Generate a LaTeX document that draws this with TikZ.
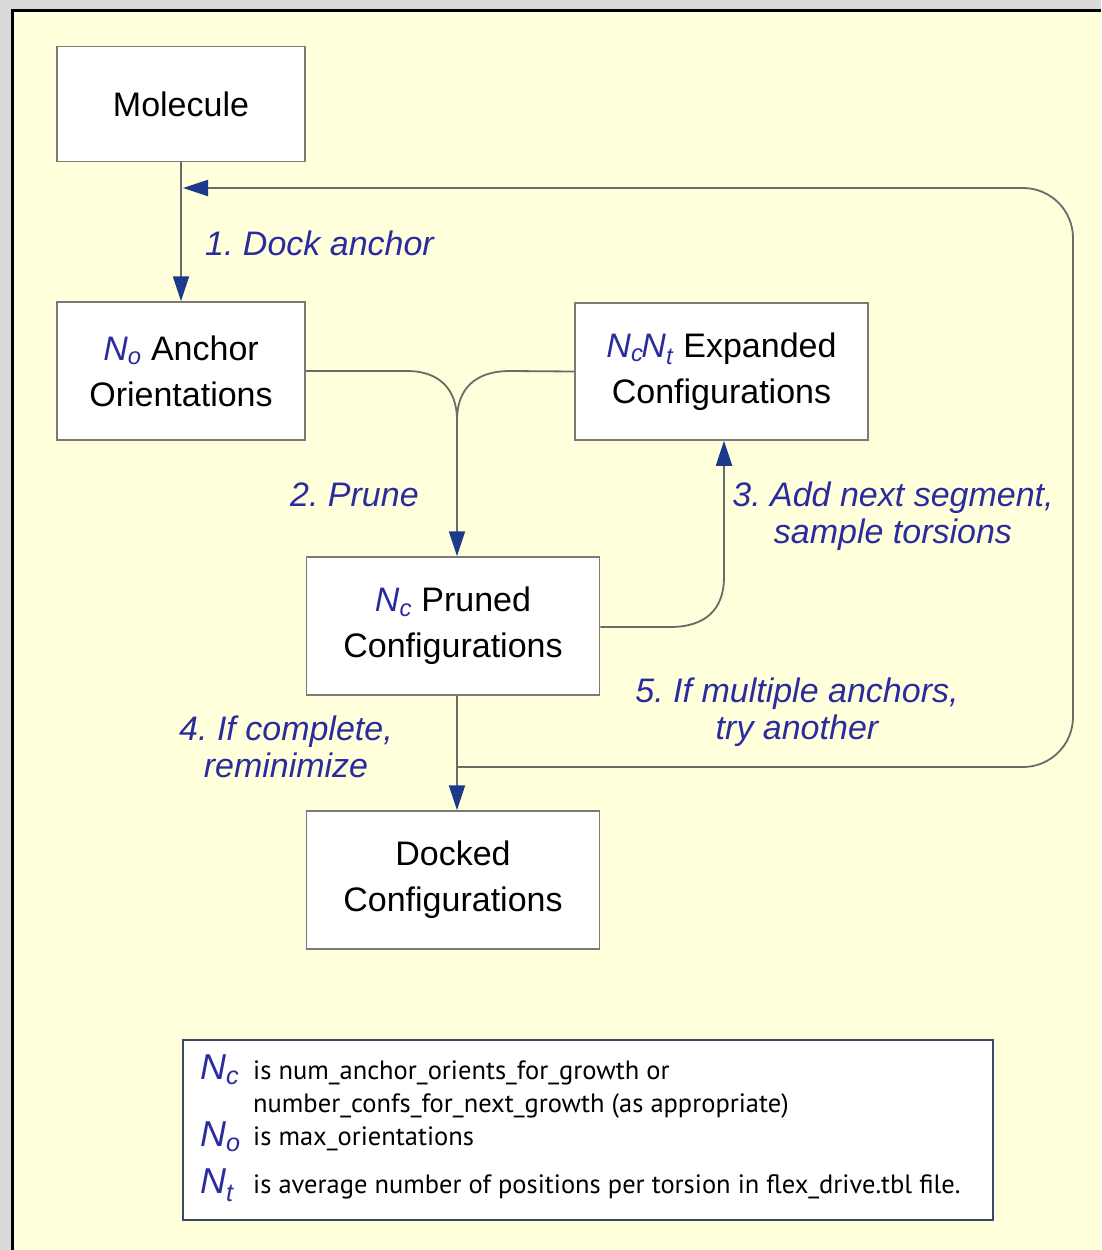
\documentclass[tikz,border=0pt]{standalone}
\usepackage{fontspec}
\setmainfont{Liberation Sans}
\newfontfamily\legfont{PT Sans}
\usetikzlibrary{arrows.meta}
\frenchspacing
\definecolor{cream}{HTML}{FFFFDC}
\definecolor{bggray}{HTML}{D9D9D9}
\definecolor{labblue}{HTML}{2B2BA0}
\definecolor{tipblue}{HTML}{1B3A8A}
\definecolor{boxgray}{HTML}{7A7A7A}
\definecolor{linegray}{HTML}{6A6A6A}
\definecolor{legborder}{HTML}{3A4868}
\newcommand\NN[1]{\textcolor{labblue}{\textit{N}\textsubscript{\textit{#1}}}}
\tikzset{
  box/.style={draw=boxgray, line width=1.5pt, fill=white, align=center,
    font=\fontsize{34}{46}\selectfont, text=black, inner sep=0pt},
  conn/.style={draw=linegray, line width=1.8pt},
  arr/.style={conn, -{Triangle[length=25pt,width=16pt,color=tipblue]}},
  lab/.style={text=labblue, font=\fontsize{34}{37}\selectfont\itshape, align=center, inner sep=0pt},
  bigN/.style={font=\fontsize{36}{36}\selectfont, inner sep=0pt},
  legtext/.style={font=\legfont\fontsize{26.5}{30}\selectfont, inner sep=0pt, anchor=west}
}
\begin{document}
\frenchspacing
\begin{tikzpicture}[x=1pt,y=-1pt]
\useasboundingbox (0,0) rectangle (1101,1250);
\fill[bggray] (0,0) rectangle (1101,1250);
\fill[cream] (12,10) rectangle (1101,1250);
\draw[line width=3pt, black] (12,1250) -- (12,10) -- (1101,10);

\node[box, minimum width=248pt, minimum height=115pt] (mol) at (181,104) {Molecule};
\node[box, minimum width=248pt, minimum height=138pt] (anc) at (181,371) {\NN{o} Anchor\\Orientations};
\node[box, minimum width=293pt, minimum height=137pt] (exp) at (721.5,371.5) {\NN{c}\kern-2pt\NN{t} Expanded\\Configurations};
\node[box, minimum width=293pt, minimum height=138pt] (pru) at (453,626) {\NN{c} Pruned\\Configurations};
\node[box, minimum width=293pt, minimum height=138pt] (dock) at (453,880) {Docked\\Configurations};

% 1. dock anchor
\draw[arr] (mol.south) -- (anc.north);
% merge to prune
\coordinate (merge) at (457,420);
\coordinate (split) at (457,767);
\draw[conn] (anc.east) -- (407,371) .. controls (440,371) and (457,390) .. (merge);
\draw[conn] (exp.west) -- (510,371) .. controls (474,371) and (457,390) .. (merge);
\draw[arr] (merge) -- (merge |- pru.north);
% 3. add next segment
\coordinate (up) at (724,577);
\draw[conn] (pru.east |- 0,627) -- (670,627) .. controls (705,627) and (724,610) .. (up);
\draw[arr] (up) -- (up |- exp.south);
% 4. to docked
\draw[arr] (split |- pru.south) -- (split |- dock.north);
% 5. loop
\coordinate (loopend) at (183,188);
\draw[arr, rounded corners=50pt] (split) -- (1073,767) -- (1073,188) -- (loopend);

% labels
\node[lab, anchor=west] (l1) at (205,243) {1. Dock anchor};
\node[lab, anchor=west] (l2) at (290,495) {2. Prune};
\node[lab] (l3) at (893,516) {3. Add next segment,\\sample torsions};
\node[lab] (l4) at (286,747) {4. If complete,\\reminimize};
\node[lab] (l5) at (797,712) {5. If multiple anchors,\\try another};

% legend
\draw[legborder, line width=2.5pt, fill=white] (183,1040) rectangle (993,1220);
\node[bigN, anchor=west] (nc) at (200,1070) {\NN{c}};
\node[bigN, anchor=west] (no) at (200,1137) {\NN{o}};
\node[bigN, anchor=west] (nt) at (200,1185) {\NN{t}};
\node[legtext] (t1) at (253,1073) {is num\_anchor\_orients\_for\_growth or};
\node[legtext] (t2) at (253,1106) {number\_confs\_for\_next\_growth (as appropriate)};
\node[legtext] (t3) at (253,1139) {is max\_orientations};
\node[legtext] (t4) at (253,1187) {is average number of positions per torsion in flex\_drive.tbl file.};
\end{tikzpicture}
\end{document}
